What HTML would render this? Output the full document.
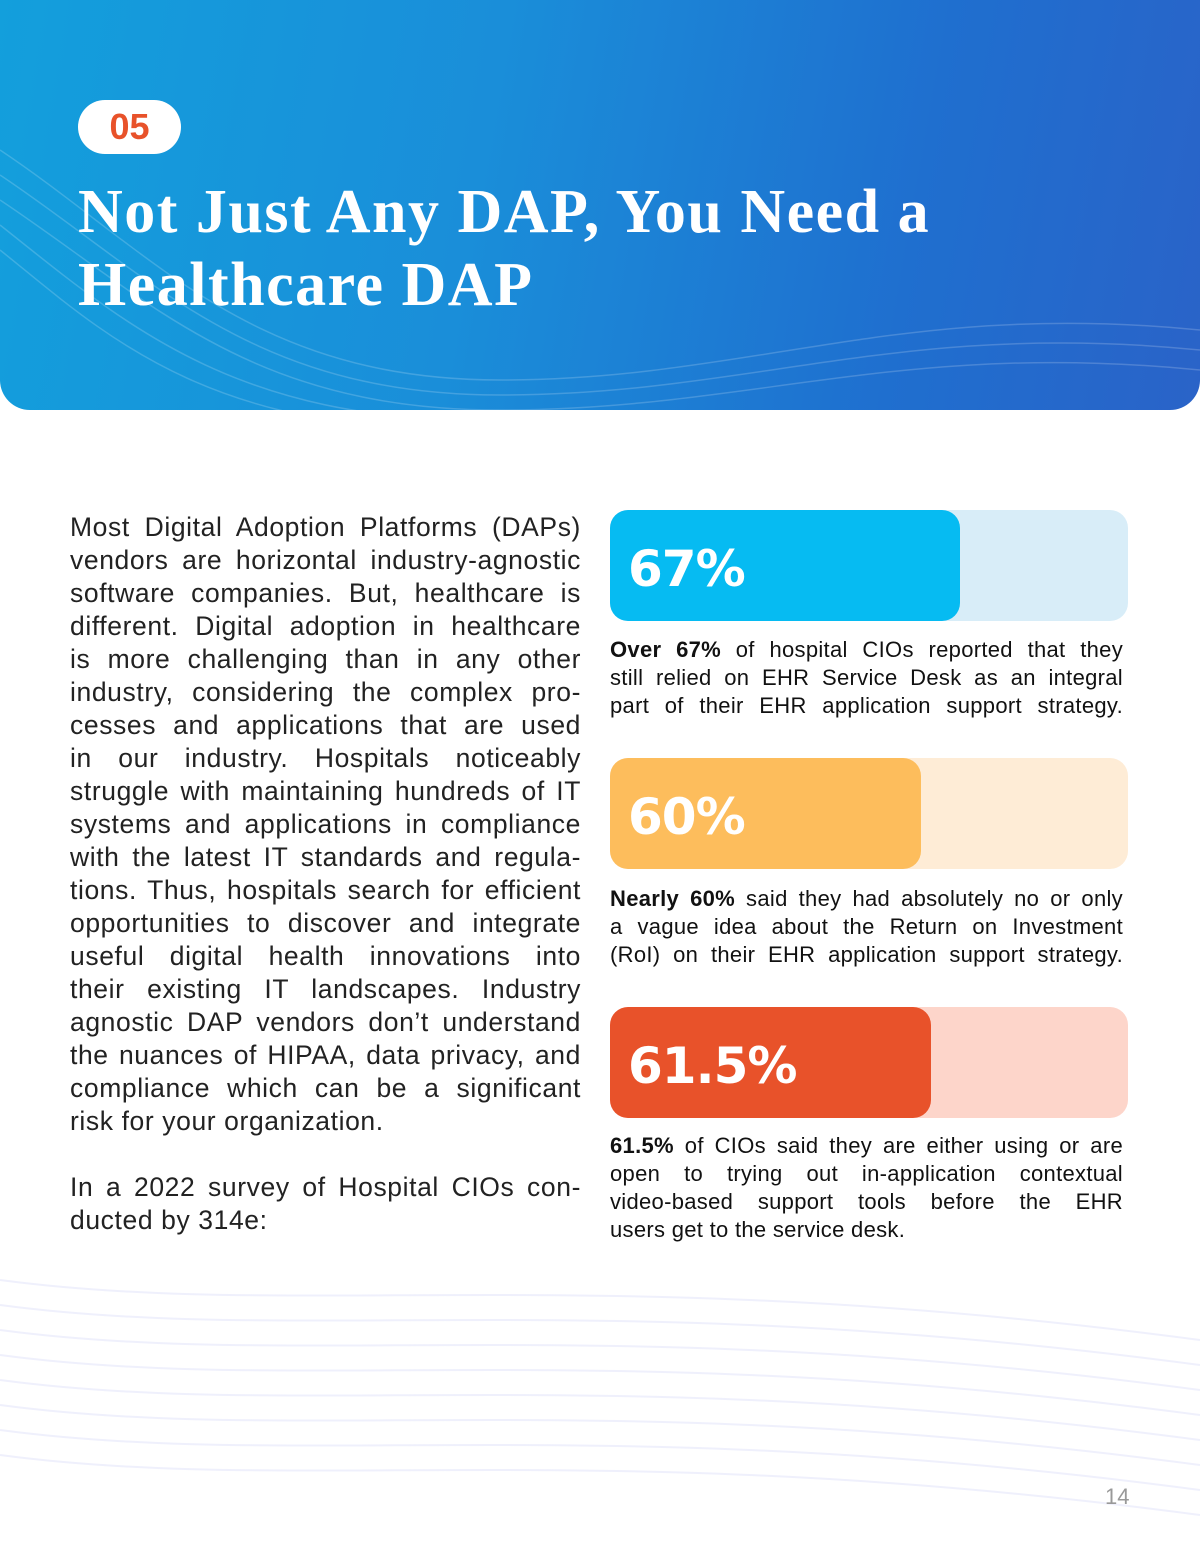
<!DOCTYPE html>
<html><head><meta charset="utf-8">
<style>
body{margin:0;width:1200px;height:1553px;position:relative;background:#fff;overflow:hidden;font-family:"Liberation Sans",sans-serif}
#hdr{position:absolute;left:0;top:0;width:1200px;height:410px;border-radius:0 0 30px 30px;background:linear-gradient(100deg,#139fdc 0%,#1a8ed9 40%,#1f6fcf 75%,#2a63c8 100%);overflow:hidden}
#pill{position:absolute;left:78px;top:100px;width:103px;height:54px;border-radius:27px;background:#fff;color:#e8522a;font-weight:bold;font-size:36px;text-align:center;line-height:54px}
#title{position:absolute;left:78px;top:176px;color:#fff;font-family:"Liberation Serif",serif;font-weight:bold;font-size:62px;line-height:73px;margin:0;letter-spacing:1.5px}
.body{position:absolute;left:70px;width:511px;font-size:26.5px;line-height:33px;color:#222;margin:0;letter-spacing:0.6px}
.cap{position:absolute;left:610px;width:513px;font-size:22px;line-height:28px;color:#111;margin:0;letter-spacing:0.3px}
.j{text-align:justify;text-align-last:justify;white-space:nowrap}
.l{text-align:left;white-space:nowrap}
#pg{position:absolute;left:1105px;top:1484px;font-size:22px;color:#999}
</style></head><body>
<div id="hdr">
<svg width="1200" height="410" style="position:absolute;left:0;top:0">
<g fill="none" stroke="rgba(255,255,255,0.18)" stroke-width="1.5">
<path d="M0 150 C150 250 250 380 500 380 S900 300 1200 330"/>
<path d="M0 175 C150 275 250 395 500 395 S900 320 1200 350"/>
<path d="M0 200 C150 300 250 410 500 410 S900 340 1200 370"/>
<path d="M0 225 C120 320 230 420 480 420"/>
<path d="M0 250 C100 330 200 430 460 430"/>
</g></svg>
<div id="pill">05</div>
<h1 id="title">Not Just Any DAP, You Need a<br>Healthcare DAP</h1>
</div>
<svg width="1200" height="300" style="position:absolute;left:0;top:1260px">
<g fill="none" stroke="rgba(120,130,230,0.12)" stroke-width="2">
<path d="M0 20 C300 60 600 0 1200 80"/><path d="M0 45 C300 85 600 25 1200 105"/><path d="M0 70 C300 110 600 50 1200 130"/><path d="M0 95 C300 135 600 75 1200 155"/><path d="M0 120 C300 160 600 100 1200 180"/><path d="M0 145 C300 185 600 125 1200 205"/><path d="M0 170 C300 210 600 150 1200 230"/><path d="M0 195 C300 235 600 175 1200 255"/>
</g></svg>
<div class="body" style="top:511px">
<div class="j">Most Digital Adoption Platforms (DAPs)</div>
<div class="j">vendors are horizontal industry-agnostic</div>
<div class="j">software companies. But, healthcare is</div>
<div class="j">different. Digital adoption in healthcare</div>
<div class="j">is more challenging than in any other</div>
<div class="j">industry, considering the complex pro-</div>
<div class="j">cesses and applications that are used</div>
<div class="j">in our industry. Hospitals noticeably</div>
<div class="j">struggle with maintaining hundreds of IT</div>
<div class="j">systems and applications in compliance</div>
<div class="j">with the latest IT standards and regula-</div>
<div class="j">tions. Thus, hospitals search for efficient</div>
<div class="j">opportunities to discover and integrate</div>
<div class="j">useful digital health innovations into</div>
<div class="j">their existing IT landscapes. Industry</div>
<div class="j">agnostic DAP vendors don’t understand</div>
<div class="j">the nuances of HIPAA, data privacy, and</div>
<div class="j">compliance which can be a significant</div>
<div class="l">risk for your organization.</div>
</div>
<div class="body" style="top:1171px">
<div class="j">In a 2022 survey of Hospital CIOs con-</div>
<div class="l">ducted by 314e:</div>
</div>
<div id="bars"></div>
<div class="cap" style="top:636px">
<div class="j"><b>Over 67%</b> of hospital CIOs reported that they</div>
<div class="j">still relied on EHR Service Desk as an integral</div>
<div class="j">part of their EHR application support strategy.</div>
</div>
<div class="cap" style="top:885px">
<div class="j"><b>Nearly 60%</b> said they had absolutely no or only</div>
<div class="j">a vague idea about the Return on Investment</div>
<div class="j">(RoI) on their EHR application support strategy.</div>
</div>
<div class="cap" style="top:1132px">
<div class="j"><b>61.5%</b> of CIOs said they are either using or are</div>
<div class="j">open to trying out in-application contextual</div>
<div class="j">video-based support tools before the EHR</div>
<div class="l">users get to the service desk.</div>
</div>
<div id="pg">14</div>
<script>
const values=[67.6,60,62];
const labels=["67%","60%","61.5%"];
const fills=["#06bbf2","#fdbd5c","#e8522a"];
const tracks=["#d8edf8","#feecd6","#fdd5ca"];
const X0=610,W=518,H=111,tops=[510,758,1007];
function xs(v){return v/100*W;}
const c=document.getElementById('bars');
values.forEach((v,i)=>{
 const t=document.createElement('div');
 
 
 t.style.cssText=`position:absolute;left:${X0}px;top:${tops[i]}px;width:${W}px;height:${H}px;border-radius:18px;background:${tracks[i]}`;
 const f=document.createElement('div');
 
 
 f.style.cssText=`position:absolute;left:0;top:0;width:${xs(v)}px;height:${H}px;border-radius:18px;background:${fills[i]}`;
 const l=document.createElement('div');
 
 
 l.textContent=labels[i];
 l.style.cssText=`position:absolute;left:18px;top:30px;color:#fff;font-family:"DejaVu Sans",sans-serif;font-weight:bold;font-size:50px;letter-spacing:-1px;line-height:58px`;
 f.appendChild(l);t.appendChild(f);c.appendChild(t);
});
</script>
</body></html>
